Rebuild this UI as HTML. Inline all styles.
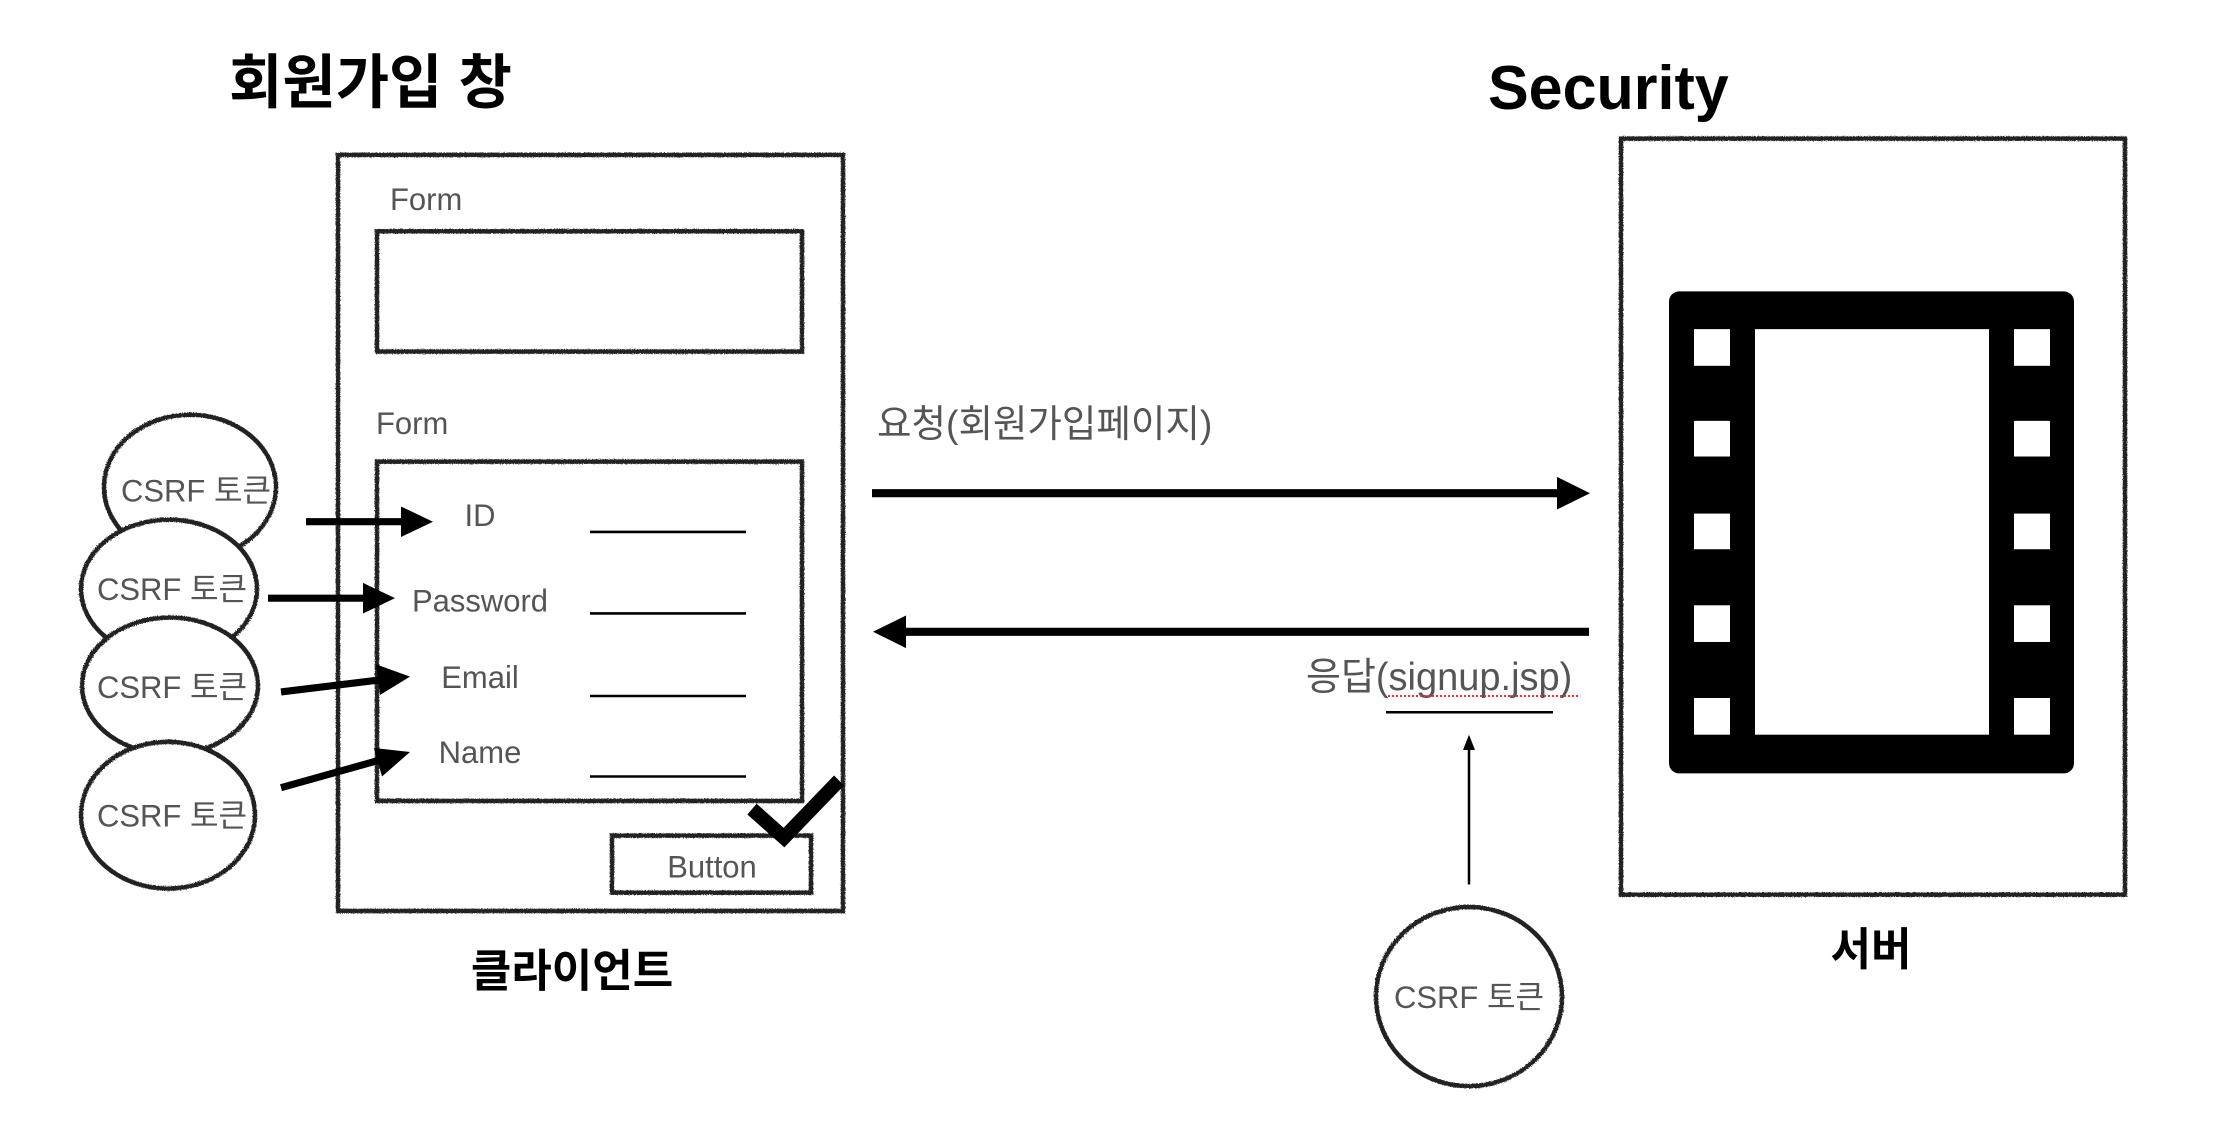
<!DOCTYPE html>
<html><head><meta charset="utf-8"><style>
html,body{margin:0;padding:0;background:#fff;}
svg{display:block;}
.k{font-family:"Liberation Sans","Noto Sans CJK KR",sans-serif;}
</style></head><body>
<svg width="2214" height="1126" viewBox="0 0 2214 1126" xmlns="http://www.w3.org/2000/svg" class="k">
<defs>
<filter id="r" x="-5%" y="-5%" width="110%" height="110%">
<feTurbulence type="fractalNoise" baseFrequency="0.9" numOctaves="2" result="n"/>
<feDisplacementMap in="SourceGraphic" in2="n" scale="2.5"/>
</filter>
</defs>
<rect width="2214" height="1126" fill="#fff"/>
<g transform="scale(1,1.019)">
<g font-family="Liberation Sans, Noto Sans CJK KR, sans-serif">
<text x="229" y="101" font-size="58" font-weight="bold" fill="#000">회원가입 창</text>
<text x="1488" y="107" font-size="61" font-weight="bold" fill="#000">Security</text>
<text x="572" y="968" font-size="44" font-weight="bold" fill="#000" text-anchor="middle">클라이언트</text>
<text x="1871" y="947" font-size="44" font-weight="bold" fill="#000" text-anchor="middle">서버</text>
</g>
<g filter="url(#r)" fill="none" stroke="#222" stroke-width="4.5">
<rect x="338" y="152" width="505" height="742"/>
<rect x="377" y="227" width="425" height="118"/>
<rect x="377" y="453" width="425" height="333"/>
<rect x="612" y="820" width="199" height="56"/>
<rect x="1621" y="136" width="504" height="742"/>
<ellipse cx="190" cy="478" rx="86" ry="71" fill="#fff"/>
<ellipse cx="169" cy="578" rx="88" ry="68" fill="#fff"/>
<ellipse cx="170" cy="673" rx="88" ry="67" fill="#fff"/>
<ellipse cx="168" cy="800" rx="87" ry="72" fill="#fff"/>
<ellipse cx="1469" cy="978" rx="93" ry="88" fill="#fff"/>
</g>
<g font-size="31" fill="#555">
<text x="390" y="206">Form</text>
<text x="376" y="426">Form</text>
<text x="480" y="516" text-anchor="middle">ID</text>
<text x="480" y="600" text-anchor="middle">Password</text>
<text x="480" y="675" text-anchor="middle">Email</text>
<text x="480" y="749" text-anchor="middle">Name</text>
<text x="712" y="861" text-anchor="middle">Button</text>
<text x="196" y="492" text-anchor="middle">CSRF 토큰</text>
<text x="172" y="589" text-anchor="middle">CSRF 토큰</text>
<text x="172" y="685" text-anchor="middle">CSRF 토큰</text>
<text x="172" y="811" text-anchor="middle">CSRF 토큰</text>
<text x="1469" y="989" text-anchor="middle">CSRF 토큰</text>
<text x="877" y="429" font-size="37.5">요청(회원가입페이지)</text>
<text x="1306" y="677" font-size="38">응답(signup.jsp)</text>
</g>
<line x1="1388" y1="683" x2="1578" y2="683" stroke="#e33" stroke-width="2" stroke-dasharray="2,2"/>
<g stroke="#000" stroke-width="2.5">
<line x1="590" y1="522" x2="746" y2="522"/>
<line x1="590" y1="602" x2="746" y2="602"/>
<line x1="590" y1="683" x2="746" y2="683"/>
<line x1="590" y1="762" x2="746" y2="762"/>
<line x1="1386" y1="699" x2="1553" y2="699"/>
<line x1="1469" y1="868" x2="1469" y2="735"/>
</g>
<polygon points="1469,721 1463,736 1475,736" fill="#000"/>
<polyline points="752,794 784,822 839,766" fill="none" stroke="#000" stroke-width="14"/>
<g stroke="#000" stroke-width="7" fill="none">
<line x1="306" y1="512" x2="405" y2="512"/>
<line x1="268" y1="587" x2="368" y2="587"/>
<line x1="281" y1="679" x2="382" y2="667"/>
<line x1="281" y1="773" x2="383" y2="745"/>
</g>
<g fill="#000">
<polygon points="433,512 401,497 401,527"/>
<polygon points="395,587 363,572 363,602"/>
<polygon points="410,664 376,652 380,682"/>
<polygon points="410,738 374,734 382,762"/>
</g>
<line x1="872" y1="484" x2="1565" y2="484" stroke="#000" stroke-width="8"/>
<polygon points="1590,484 1557,468 1557,500" fill="#000"/>
<line x1="898" y1="620" x2="1589" y2="620" stroke="#000" stroke-width="8"/>
<polygon points="873,620 906,604 906,636" fill="#000"/>
<rect x="1669" y="286" width="405" height="473" rx="10" fill="#000"/>
<rect x="1755" y="323" width="234" height="398" fill="#fff"/>
<g fill="#fff">
<rect x="1694" y="323" width="36" height="36"/><rect x="2014" y="323" width="36" height="36"/>
<rect x="1694" y="413" width="36" height="35"/><rect x="2014" y="413" width="36" height="35"/>
<rect x="1694" y="504" width="36" height="35"/><rect x="2014" y="504" width="36" height="35"/>
<rect x="1694" y="594" width="36" height="36"/><rect x="2014" y="594" width="36" height="36"/>
<rect x="1694" y="685" width="36" height="36"/><rect x="2014" y="685" width="36" height="36"/>
</g>
</g>
</svg>
</body></html>
